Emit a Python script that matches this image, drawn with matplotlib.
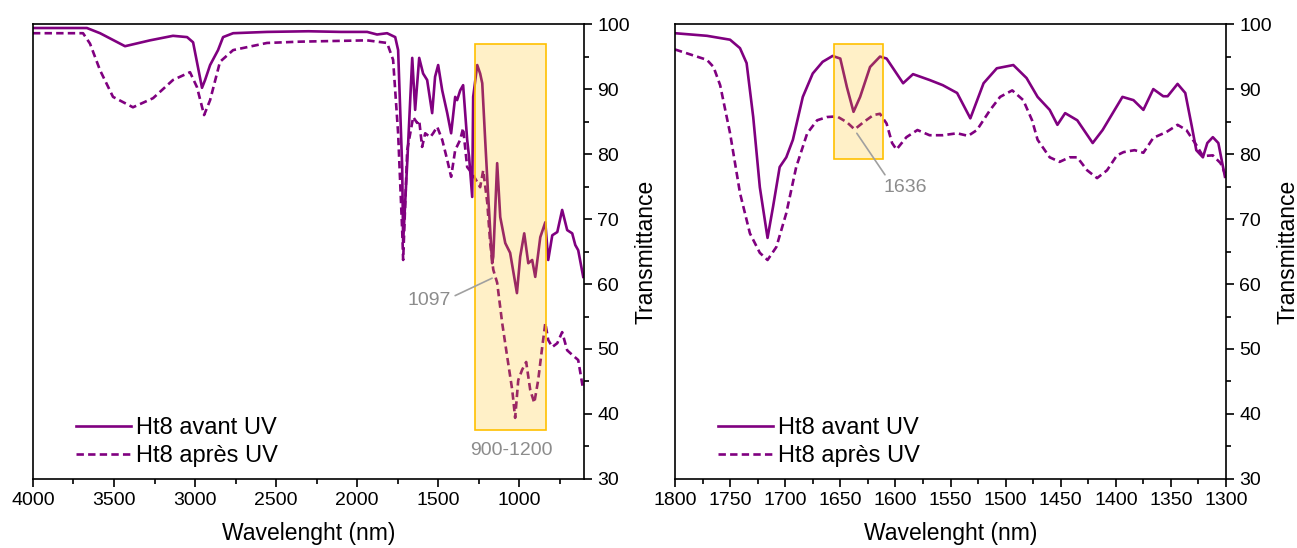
import matplotlib.pyplot as plt
from matplotlib.patches import Rectangle
from matplotlib.ticker import MultipleLocator

plt.rcParams['font.family'] = ['Liberation Sans', 'DejaVu Sans']

# ---- data ----
# left panel, full range (avant UV, solid)
wn_full_avant = [4000, 3667, 3586, 3432, 3278, 3136, 3049, 3012, 2957, 2938, 2907, 2858, 2827,
                 2765, 2556, 2300, 2100, 1938, 1877, 1815, 1765, 1747, 1722, 1716, 1691, 1660,
                 1642, 1617, 1593, 1568, 1537, 1519, 1500, 1475, 1444, 1420, 1395, 1383, 1364,
                 1346, 1321, 1309, 1290, 1284, 1259, 1241, 1228, 1210, 1191, 1167, 1160, 1136,
                 1117, 1086, 1056, 1014, 994, 969, 944, 920, 901, 870, 839, 821, 796, 765, 735,
                 704, 673, 654, 636, 605]
t_full_avant = [99.4, 99.4, 98.6, 96.6, 97.5, 98.2, 98.0, 97.2, 90.2, 91.4, 93.7, 96.0, 98.0,
                98.6, 98.8, 98.9, 98.8, 98.8, 98.4, 98.6, 98.0, 96.0, 78.0, 66.5, 78.6, 94.8,
                86.8, 94.8, 92.4, 91.4, 86.3, 91.9, 93.7, 89.8, 86.3, 83.2, 88.8, 88.3, 89.8,
                90.6, 82.2, 79.5, 73.4, 88.8, 93.7, 92.4, 90.9, 82.2, 73.4, 63.2, 64.2, 78.6,
                70.3, 66.3, 64.8, 58.6, 64.2, 67.8, 63.2, 63.7, 61.1, 67.2, 69.5, 63.7, 67.5,
                68.0, 71.4, 68.3, 67.8, 66.0, 65.2, 61.1]

# left panel, full range (apres UV, dashed)
wn_full_apres = [4000, 3691, 3648, 3586, 3506, 3383, 3259, 3136, 3031, 2988, 2944, 2907, 2846,
                 2765, 2556, 2352, 2148, 1938, 1815, 1778, 1747, 1722, 1716, 1691, 1654, 1630,
                 1617, 1599, 1580, 1549, 1531, 1506, 1475, 1444, 1420, 1395, 1364, 1346, 1321,
                 1290, 1259, 1241, 1222, 1197, 1179, 1160, 1136, 1105, 1074, 1043, 1025, 1006,
                 982, 957, 932, 907, 883, 858, 839, 821, 796, 765, 735, 704, 673, 636, 605]
t_full_apres = [98.6, 98.6, 97.0, 92.9, 88.8, 87.2, 88.6, 91.4, 92.6, 90.3, 86.0, 88.3, 94.2,
                96.0, 97.1, 97.3, 97.4, 97.5, 97.1, 94.5, 83.2, 68.3, 63.7, 80.6, 85.7, 84.8,
                85.2, 81.1, 83.2, 82.6, 83.2, 84.2, 82.2, 79.1, 76.5, 80.6, 82.2, 84.0, 78.0,
                77.0, 75.7, 74.9, 77.5, 72.5, 66.3, 62.2, 60.2, 54.0, 48.8, 43.7, 39.4, 45.2,
                46.8, 48.0, 43.7, 41.7, 45.2, 50.3, 54.0, 51.4, 50.3, 50.9, 52.6, 49.8, 49.1,
                48.3, 43.7]

# right panel, zoom 1800-1300 (avant UV, solid)
wn_zoom_avant = [1800, 1771, 1750, 1741, 1735, 1729, 1723, 1716, 1711, 1705, 1699, 1693, 1684,
                 1675, 1666, 1657, 1650, 1644, 1638, 1632, 1623, 1614, 1608, 1593, 1584, 1569,
                 1557, 1544, 1532, 1520, 1508, 1493, 1481, 1471, 1460, 1453, 1446, 1435, 1421,
                 1412, 1394, 1384, 1375, 1366, 1357, 1353, 1344, 1337, 1331, 1327, 1321, 1317,
                 1312, 1307, 1301]
t_zoom_avant = [98.6, 98.2, 97.6, 96.3, 94.0, 85.7, 74.9, 67.1, 71.9, 78.0, 79.5, 82.2, 88.8,
                92.4, 94.2, 95.1, 94.7, 90.3, 86.5, 88.8, 93.4, 95.0, 94.7, 90.9, 92.3, 91.4,
                90.6, 89.4, 85.5, 90.9, 93.2, 93.7, 91.7, 88.8, 86.8, 84.5, 86.3, 85.2, 81.7,
                83.7, 88.8, 88.3, 86.8, 90.0, 88.9, 88.9, 90.8, 89.4, 84.2, 80.6, 79.5, 81.7,
                82.6, 81.7, 76.5]

# right panel, zoom 1800-1300 (apres UV, dashed)
wn_zoom_apres = [1800, 1771, 1765, 1759, 1750, 1741, 1732, 1723, 1716, 1708, 1699, 1690, 1680,
                 1671, 1662, 1653, 1644, 1637, 1629, 1620, 1614, 1608, 1603, 1599, 1590, 1580,
                 1569, 1557, 1544, 1534, 1526, 1514, 1505, 1494, 1484, 1476, 1471, 1460, 1451,
                 1442, 1435, 1426, 1417, 1408, 1399, 1393, 1383, 1375, 1366, 1354, 1344, 1336,
                 1327, 1321, 1312, 1305, 1301]
t_zoom_apres = [96.1, 94.5, 93.4, 90.6, 83.2, 74.0, 67.8, 64.8, 63.7, 65.7, 70.9, 78.0, 83.2,
                85.2, 85.7, 85.8, 84.9, 83.8, 84.9, 86.0, 86.2, 84.7, 81.7, 80.7, 82.6, 83.7,
                82.9, 82.9, 83.2, 82.8, 83.7, 86.8, 88.8, 89.8, 88.3, 85.2, 82.2, 79.5, 78.8,
                79.5, 79.5, 77.5, 76.3, 77.5, 79.8, 80.3, 80.6, 80.2, 82.5, 83.4, 84.5, 83.7,
                81.4, 79.7, 79.8, 78.6, 77.0]

labels = ["Ht8 avant UV", "Ht8 après UV"]

purple = '#800080'
grey = '#8c8c8c'
gold = '#FFC000'

fig = plt.figure(figsize=(12.97, 5.48), dpi=100)
ax1 = fig.add_axes([0.0254, 0.126, 0.4249, 0.830])
ax2 = fig.add_axes([0.5204, 0.126, 0.4249, 0.830])


def style_axis(ax, xlim, major, minor):
    ax.set_xlim(*xlim)
    ax.set_ylim(30, 100)
    ax.xaxis.set_major_locator(MultipleLocator(major))
    ax.xaxis.set_minor_locator(MultipleLocator(minor))
    ax.yaxis.set_major_locator(MultipleLocator(10))
    ax.yaxis.set_minor_locator(MultipleLocator(5))
    ax.yaxis.tick_right()
    ax.yaxis.set_label_position('right')
    ax.tick_params(which='both', direction='out', labelsize=14, width=1.2)
    ax.tick_params(which='major', length=6)
    ax.tick_params(which='minor', length=3.5)
    ax.tick_params(axis='y', which='both', left=False, right=True)
    for s in ax.spines.values():
        s.set_linewidth(1.2)
    ax.set_xlabel("Wavelenght (nm)", fontsize=16.5, labelpad=9)
    ax.set_ylabel("Transmittance", fontsize=16.5, labelpad=3)


# left panel
ax1.plot(wn_full_avant, t_full_avant, color=purple, lw=1.9, label=labels[0])
ax1.plot(wn_full_apres, t_full_apres, color=purple, lw=1.9, ls=(0, (2.8, 1.6)), label=labels[1])
style_axis(ax1, (4000, 600), 500, 250)
ax1.add_patch(Rectangle((1272, 37.5), 833 - 1272, 96.9 - 37.5,
                        facecolor=(1, 0.75, 0, 0.22), edgecolor=gold, lw=1.2, zorder=3))
ax1.text(1049, 34.4, "900-1200", color=grey, fontsize=14, ha='center', va='center')
ax1.annotate("1097", xy=(1167, 60.9), xytext=(1420, 57.4), color=grey, fontsize=14,
             ha='right', va='center',
             arrowprops=dict(arrowstyle='-', color='#a0a0a0', lw=1.2, relpos=(1, 0.7),
                             shrinkA=1, shrinkB=0))
ax1.legend(loc='lower left', bbox_to_anchor=(0.04, -0.02), frameon=False, fontsize=17,
           handlelength=2.3, handletextpad=0.25, labelspacing=0.25)

# right panel
ax2.plot(wn_zoom_avant, t_zoom_avant, color=purple, lw=1.9, label=labels[0])
ax2.plot(wn_zoom_apres, t_zoom_apres, color=purple, lw=1.9, ls=(0, (2.8, 1.6)), label=labels[1])
style_axis(ax2, (1800, 1300), 50, 25)
ax2.add_patch(Rectangle((1656, 79.2), 1611 - 1656, 96.9 - 79.2,
                        facecolor=(1, 0.75, 0, 0.22), edgecolor=gold, lw=1.2, zorder=3))
ax2.annotate("1636", xy=(1635, 83.2), xytext=(1611, 74.9), color=grey, fontsize=14,
             ha='left', va='center',
             arrowprops=dict(arrowstyle='-', color='#a0a0a0', lw=1.2, relpos=(0.1, 1),
                             shrinkA=1, shrinkB=0))
ax2.legend(loc='lower left', bbox_to_anchor=(0.04, -0.02), frameon=False, fontsize=17,
           handlelength=2.3, handletextpad=0.25, labelspacing=0.25)

fig.savefig("out.png", dpi=100)
